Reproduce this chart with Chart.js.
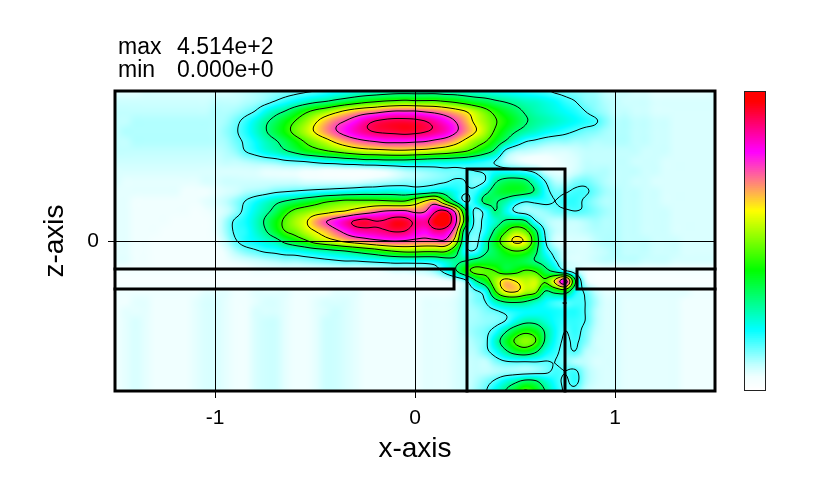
<!DOCTYPE html>
<html>
<head>
<meta charset="utf-8">
<title>x-z field</title>
<script src="https://cdn.jsdelivr.net/npm/chart.js@4"></script>
<style>
  body { margin: 0; background: #fff; }
  #wrap { position: relative; width: 828px; height: 492px; }
  #plot { position: absolute; left: 0; top: 0; }
  #bar { position: absolute; left: 745px; top: 92px; outline: 1px solid #222; }
</style>
</head>
<body>
<div id="wrap">
  <canvas id="plot" width="828" height="492"></canvas>
  <canvas id="bar" width="20" height="298"></canvas>
</div>
<script>
// axis ticks and labels
const xTicks = [-1, 0, 1];
const zTicks = [0];
const xTitle = "x-axis";
const zTitle = "z-axis";
const statNames = ["max", "min"];
const statValues = ["4.514e+2", "0.000e+0"];

// field, percent of max, one row per z (top row first), one column per x
const xStart = -1.5, zStart = 0.75, gridStep = 0.05;
const fieldRows = [
  [5,5,5,6,6,6,6,6,6,6,6,6,7,8,9,10,11,12,13,14,15,17,19,20,22,23,24,25,26,26,26,26,26,25,25,24,23,22,21,20,19,18,17,16,14,13,12,11,10,8,7,7,6,6,5,5,5,5,5,5,6],
  [7,7,7,7,7,7,7,7,7,7,8,8,8,9,10,12,15,18,21,24,27,29,32,35,38,41,43,45,46,47,46,46,46,44,42,39,36,34,31,29,27,25,24,22,20,17,15,12,11,9,8,7,7,7,6,6,6,6,6,6,6],
  [8,8,8,8,8,8,8,8,8,8,9,9,10,12,15,21,26,30,36,42,47,51,56,61,65,68,70,73,75,75,75,73,71,68,64,60,54,48,42,37,33,29,26,24,22,20,18,15,12,10,8,8,7,7,6,6,6,6,6,6,6],
  [8,8,9,9,9,9,9,9,9,9,9,10,13,17,22,28,33,39,45,51,58,65,71,75,80,86,90,92,93,93,92,90,86,81,75,67,58,52,46,41,36,31,28,26,24,22,20,18,16,12,9,9,8,8,7,7,6,6,6,6,6],
  [8,9,9,9,9,9,9,9,9,9,9,11,14,18,23,29,35,41,48,54,61,68,74,79,84,88,91,92,93,94,93,91,88,84,77,69,61,53,44,37,31,27,24,21,19,17,15,13,12,10,9,9,8,8,7,7,6,6,6,6,6],
  [8,8,9,9,9,9,9,9,9,9,9,10,13,16,20,25,29,34,40,46,51,56,62,67,71,74,76,78,78,78,77,76,73,70,65,58,51,46,38,30,22,16,14,12,11,11,10,10,9,9,9,9,8,8,7,7,6,6,6,6,6],
  [8,8,8,8,8,8,8,8,8,8,8,9,11,15,18,22,25,29,33,38,41,44,47,50,53,55,56,57,58,58,57,56,54,52,49,46,41,35,28,14,9,8,7,6,6,6,7,8,8,8,8,8,8,7,7,7,6,6,6,6,6],
  [7,7,7,7,7,7,7,7,7,7,7,8,8,9,10,11,12,14,15,16,18,20,21,23,24,26,26,27,27,27,26,25,24,24,23,22,20,18,15,9,6,4,3,3,4,5,6,8,8,8,8,8,7,7,7,6,6,6,6,6,6],
  [6,6,6,6,6,6,6,6,6,6,6,6,6,6,6,5,5,5,5,4,4,3,3,3,3,3,4,5,7,9,10,11,12,13,13,14,15,16,19,19,18,16,13,7,5,5,7,9,9,9,8,8,8,7,7,6,6,6,6,6,6],
  [6,5,5,5,5,5,5,5,5,6,6,7,7,7,7,7,7,7,7,6,6,6,6,6,6,7,8,9,10,11,11,12,13,14,16,15,12,15,28,33,34,32,24,15,9,9,12,13,11,9,8,8,7,7,6,6,6,6,6,6,6],
  [5,5,5,5,5,5,5,4,4,4,5,6,7,9,10,11,13,14,15,16,17,18,19,20,21,22,22,23,23,22,21,22,24,24,20,16,17,26,34,37,37,35,29,18,13,14,16,16,13,10,9,8,8,7,7,6,6,6,6,6,6],
  [5,5,4,4,4,4,4,4,4,5,6,8,11,15,19,23,27,30,33,36,39,43,45,47,47,47,47,46,45,45,52,60,66,46,28,14,20,33,31,27,20,16,17,17,15,17,17,14,11,9,9,8,8,7,7,6,6,6,6,6,6],
  [5,5,4,4,4,4,4,4,3,4,5,7,11,17,22,27,33,41,47,50,53,55,58,60,64,68,72,75,76,76,72,74,88,92,72,34,13,18,30,22,14,11,10,11,13,14,15,14,12,10,9,8,8,7,7,7,6,6,6,6,6],
  [5,5,4,4,4,4,3,3,3,3,5,10,16,19,24,31,39,47,53,58,67,74,79,85,91,93,90,91,95,94,88,87,97,100,80,40,13,18,24,31,33,31,16,10,8,8,8,9,10,9,9,8,8,7,7,7,6,6,6,6,6],
  [5,5,4,4,4,3,3,3,3,3,5,10,16,18,23,29,37,45,49,55,60,65,72,78,84,86,87,89,91,90,84,81,87,85,68,24,13,19,32,43,52,48,33,14,8,7,7,8,9,9,9,8,8,7,7,7,6,6,6,6,6],
  [5,5,4,4,3,3,3,3,3,3,4,8,14,18,20,23,26,33,38,43,50,54,58,63,66,69,72,74,75,74,72,71,72,73,55,20,12,25,38,52,62,58,38,16,7,6,6,6,8,9,9,8,8,8,7,7,7,6,6,6,6],
  [5,5,4,4,3,3,3,3,3,3,3,5,9,12,14,16,17,19,20,22,24,26,28,30,33,36,39,43,46,48,48,47,47,47,36,18,16,28,34,41,45,43,33,19,12,7,6,6,7,8,9,8,8,8,7,7,7,6,6,6,6],
  [5,5,4,4,3,3,3,3,3,3,3,4,5,6,7,8,9,10,10,11,12,13,14,15,15,16,17,18,19,19,19,19,20,24,28,30,34,36,36,36,36,34,30,25,16,8,6,6,7,8,8,8,8,7,7,7,6,6,6,6,6],
  [3,3,3,3,3,3,3,3,3,3,3,3,3,3,4,4,4,4,4,4,4,4,4,4,4,4,4,5,6,6,7,8,11,18,28,40,48,47,45,38,41,46,44,34,27,17,10,5,3,3,3,3,3,3,3,3,3,3,3,3,3],
  [2,2,2,2,2,2,2,2,2,2,2,2,2,2,2,2,2,2,2,2,2,3,3,3,3,3,3,3,3,3,3,3,3,4,6,12,28,38,52,64,60,55,56,46,62,82,32,8,3,2,2,2,2,2,2,2,2,2,2,2,2],
  [4,4,4,4,4,4,4,4,4,5,5,5,4,4,5,5,5,5,4,4,4,4,5,5,5,4,4,4,4,4,4,4,4,4,5,9,14,20,44,60,62,54,50,30,35,38,20,14,8,5,5,5,5,5,5,5,5,5,4,4,4],
  [4,4,5,5,4,4,4,4,5,6,6,5,4,4,5,6,6,5,4,4,5,6,6,6,5,4,4,4,4,4,4,5,5,5,6,9,12,15,26,32,33,31,26,20,17,16,16,15,10,6,6,5,5,5,5,5,5,4,4,4,4],
  [4,5,5,5,4,4,4,4,5,6,6,5,4,4,6,6,6,5,4,4,5,6,7,6,5,4,4,4,4,4,4,5,5,5,6,9,10,12,14,17,19,20,20,20,19,18,18,15,9,6,6,5,5,5,5,5,5,4,4,4,4],
  [4,5,6,5,4,4,4,4,5,6,6,5,4,4,6,7,7,5,4,4,5,7,7,6,5,4,4,4,4,4,4,5,5,5,6,9,10,11,12,15,22,27,27,23,19,17,17,15,9,6,6,5,5,5,5,5,5,4,4,4,4],
  [4,5,6,5,4,4,4,4,5,6,6,5,4,4,6,7,7,5,4,4,5,7,7,6,5,4,4,4,4,4,4,5,5,5,6,9,11,13,18,28,37,42,39,29,20,15,17,13,8,6,6,5,5,5,5,5,5,4,4,4,4],
  [4,5,6,5,4,4,4,4,5,6,6,5,4,4,6,7,7,5,4,4,5,7,7,6,5,4,4,4,4,4,4,5,5,5,6,8,10,13,24,36,46,51,46,29,19,14,16,12,7,6,6,5,5,5,5,5,5,4,4,4,4],
  [4,5,6,5,4,4,4,4,5,6,6,5,4,4,6,7,7,5,4,4,5,7,7,6,5,4,4,4,4,4,4,5,5,5,6,8,9,13,19,28,36,39,33,22,17,13,15,9,7,6,6,5,5,5,5,5,5,4,4,4,4],
  [4,5,6,5,4,4,4,4,5,6,6,5,4,4,6,7,7,5,4,4,5,7,7,6,5,4,4,4,4,4,4,5,5,5,6,7,8,8,12,15,16,16,16,15,15,12,9,8,6,6,6,5,5,5,5,5,5,4,4,4,4],
  [4,5,6,5,4,4,4,4,5,6,6,5,4,4,6,7,7,5,4,4,5,7,7,6,5,4,4,4,4,4,4,5,5,5,6,7,8,8,9,10,10,10,11,13,16,15,16,10,7,6,6,5,5,5,5,5,5,4,4,4,4],
  [4,5,6,5,4,4,4,4,5,6,6,5,4,4,6,7,7,5,4,4,5,7,7,6,5,4,4,4,4,4,4,5,5,5,6,7,9,12,16,22,27,32,31,24,18,14,17,10,7,6,6,5,5,5,5,5,5,4,4,4,4],
  [4,5,6,5,4,4,4,4,5,6,6,5,4,4,6,7,7,5,4,4,5,7,7,6,5,4,4,4,4,4,4,5,5,5,6,7,10,14,22,30,38,46,40,30,20,14,13,8,6,6,6,5,5,5,5,5,5,4,4,4,4]
];
const contourLevels = [15, 30, 45, 60, 75, 90];

// colour table, percent and rgb
const colourStops = [0, 4, 8, 20, 40, 60, 80, 97, 100];
const colourValues = [[255,255,255],[240,255,255],[195,255,255],[0,255,255],[0,255,0],[255,255,0],[255,0,255],[255,0,0],[255,0,0]];

// geometry outlines in axis units
const leftWallX = [-1.5, 0.195, 0.195, -1.5];
const leftWallZ = [-0.14, -0.14, -0.24, -0.24];
const rightWallX = [1.5, 0.81, 0.81, 1.5];
const rightWallZ = [-0.14, -0.14, -0.24, -0.24];
const boxX = [0.26, 0.26, 0.75, 0.75];
const boxZ = [-0.75, 0.36, 0.36, -0.75];
const frameX = [-1.5, 1.5, 1.5, -1.5, -1.5];
const frameZ = [0.75, 0.75, -0.75, -0.75, 0.75];

function colourAt(v) {
  let i = 0;
  while (i < colourStops.length - 2 && v > colourStops[i + 1]) i++;
  const t = (v - colourStops[i]) / (colourStops[i + 1] - colourStops[i]);
  return colourValues[i].map((c, k) => c + (colourValues[i + 1][k] - c) * t);
}

// smooth lookup between the grid cells, only for painting
function cubic(a, b, c, d, t) {
  return b + 0.5 * t * (c - a + t * (2 * a - 5 * b + 4 * c - d + t * (3 * (b - c) + d - a)));
}
function cell(r, c) {
  r = Math.max(0, Math.min(fieldRows.length - 1, r));
  c = Math.max(0, Math.min(fieldRows[0].length - 1, c));
  return fieldRows[r][c];
}
function fieldAt(x, z) {
  const cf = (x - xStart) / gridStep, rf = (zStart - z) / gridStep;
  const c = Math.floor(cf), r = Math.floor(rf);
  const vals = [];
  for (let i = -1; i < 3; i++) {
    vals.push(cubic(cell(r + i, c - 1), cell(r + i, c), cell(r + i, c + 1), cell(r + i, c + 2), cf - c));
  }
  return Math.max(0, Math.min(100, cubic(vals[0], vals[1], vals[2], vals[3], rf - r)));
}

const heatPlugin = {
  id: "heat",
  beforeDraw(chart) {
    const { ctx, chartArea: a, scales } = chart;
    const w = Math.round(a.right - a.left), h = Math.round(a.bottom - a.top);
    const off = document.createElement("canvas");
    off.width = w; off.height = h;
    const octx = off.getContext("2d");
    const img = octx.createImageData(w, h);
    const vals = new Float32Array((w + 1) * (h + 1));
    for (let j = 0; j <= h; j++) {
      const z = scales.y.getValueForPixel(a.top + j);
      for (let i = 0; i <= w; i++) {
        vals[j * (w + 1) + i] = fieldAt(scales.x.getValueForPixel(a.left + i), z);
      }
    }
    for (let j = 0; j < h; j++) {
      for (let i = 0; i < w; i++) {
        const col = colourAt(vals[j * (w + 1) + i]);
        const p = (j * w + i) * 4;
        img.data[p] = col[0]; img.data[p + 1] = col[1]; img.data[p + 2] = col[2]; img.data[p + 3] = 255;
      }
    }
    octx.putImageData(img, 0, 0);
    ctx.drawImage(off, a.left, a.top);
    chart.$vals = vals; chart.$w = w; chart.$h = h;
  },
  // contour lines, marching squares over the painted values
  beforeDatasetsDraw(chart) {
    const { ctx, chartArea: a } = chart;
    const vals = chart.$vals, w = chart.$w, h = chart.$h, step = 2;
    const at = (i, j) => vals[j * (w + 1) + i];
    ctx.save();
    ctx.strokeStyle = "#000";
    ctx.lineWidth = 1;
    ctx.beginPath();
    contourLevels.forEach(lv => {
      for (let j = 0; j + step <= h; j += step) {
        for (let i = 0; i + step <= w; i += step) {
          const p = [[i, j], [i + step, j], [i + step, j + step], [i, j + step]];
          const cuts = [];
          for (let k = 0; k < 4; k++) {
            const A = p[k], B = p[(k + 1) % 4];
            const va = at(A[0], A[1]), vb = at(B[0], B[1]);
            if ((va < lv) !== (vb < lv)) {
              const t = (lv - va) / (vb - va);
              cuts.push([a.left + A[0] + (B[0] - A[0]) * t, a.top + A[1] + (B[1] - A[1]) * t]);
            }
          }
          for (let k = 0; k + 1 < cuts.length; k += 2) {
            ctx.moveTo(cuts[k][0], cuts[k][1]);
            ctx.lineTo(cuts[k + 1][0], cuts[k + 1][1]);
          }
        }
      }
    });
    ctx.stroke();
    ctx.restore();
  },
  afterDraw(chart) {
    const ctx = chart.ctx;
    ctx.save();
    ctx.fillStyle = "#000";
    ctx.font = "23px 'Liberation Sans'";
    statNames.forEach((name, i) => {
      ctx.fillText(name, 118, 54 + i * 23);
      ctx.fillText(statValues[i], 177, 54 + i * 23);
    });
    ctx.restore();
  }
};

function outline(label, xs, zs) {
  return {
    type: "scatter",
    label: label,
    data: xs.map((x, i) => ({ x: x, y: zs[i] })),
    showLine: true,
    borderColor: "#000",
    borderWidth: 3,
    borderCapStyle: "square",
    pointRadius: 0,
    clip: false
  };
}

const fieldPoints = [];
fieldRows.forEach((row, r) => row.forEach((v, c) => {
  fieldPoints.push({ x: xStart + c * gridStep, y: zStart - r * gridStep, v: v });
}));

new Chart(document.getElementById("plot"), {
  type: "scatter",
  data: {
    datasets: [
      { label: "field", data: fieldPoints, pointRadius: 0 },
      outline("left wall", leftWallX, leftWallZ),
      outline("right wall", rightWallX, rightWallZ),
      outline("box", boxX, boxZ),
      outline("frame", frameX, frameZ)
    ]
  },
  options: {
    responsive: false,
    animation: false,
    devicePixelRatio: 1,
    layout: { padding: { top: 91, right: 113, bottom: 0, left: 0 } },
    plugins: { legend: { display: false }, tooltip: { enabled: false } },
    scales: {
      x: {
        type: "linear", min: -1.5, max: 1.5,
        afterBuildTicks: s => { s.ticks = xTicks.map(v => ({ value: v })); },
        afterFit: s => { s.height = 101; },
        grid: { color: "#000", lineWidth: 1, tickLength: 7 },
        border: { display: false },
        ticks: { color: "#000", font: { family: "'Liberation Sans'", size: 21 }, padding: 8, maxRotation: 0, autoSkip: false },
        title: { display: true, text: xTitle, color: "#000", font: { family: "'Liberation Sans'", size: 28 }, padding: { top: 26, bottom: 26 } }
      },
      y: {
        type: "linear", min: -0.75, max: 0.75,
        afterBuildTicks: s => { s.ticks = zTicks.map(v => ({ value: v })); },
        afterFit: s => { s.width = 115; },
        grid: { color: "#000", lineWidth: 1, tickLength: 7 },
        border: { display: false },
        ticks: { color: "#000", font: { family: "'Liberation Sans'", size: 21 }, padding: 9, autoSkip: false },
        title: { display: true, text: zTitle, color: "#000", font: { family: "'Liberation Sans'", size: 28 }, padding: { top: 38, bottom: 38 } }
      }
    }
  },
  plugins: [heatPlugin]
});

// colour bar, one thin floating bar per level
const barLevels = [];
for (let i = 0; i < 149; i++) barLevels.push((148 - i) / 148 * 100);

new Chart(document.getElementById("bar"), {
  type: "bar",
  data: {
    labels: barLevels,
    datasets: [{
      data: barLevels.map(() => 1),
      backgroundColor: barLevels.map(v => {
        const c = colourAt(v).map(Math.round);
        return `rgb(${c[0]},${c[1]},${c[2]})`;
      }),
      barPercentage: 1,
      categoryPercentage: 1
    }]
  },
  options: {
    indexAxis: "y",
    responsive: false,
    animation: false,
    devicePixelRatio: 1,
    plugins: { legend: { display: false }, tooltip: { enabled: false } },
    scales: {
      x: { display: false, min: 0, max: 1 },
      y: { display: false }
    }
  }
});
</script>
</body>
</html>
